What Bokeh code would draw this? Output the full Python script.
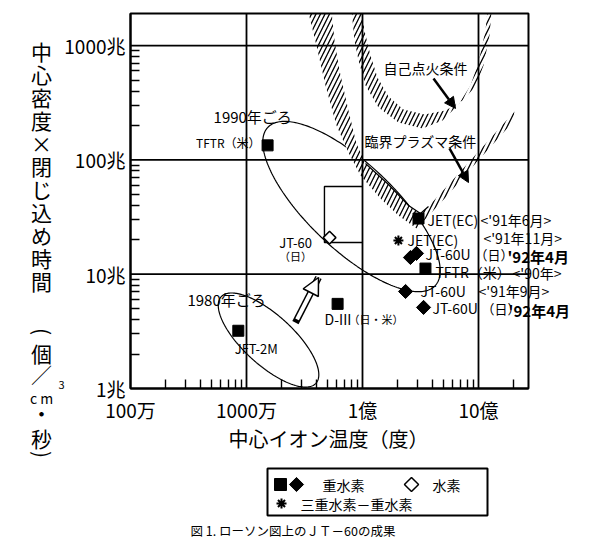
import numpy as np
from bokeh.plotting import figure
from bokeh.models import FixedTicker, CustomJSTickFormatter, Label, Arrow, NormalHead, Range1d
from bokeh.layouts import column
from bokeh.embed import file_html
from bokeh.resources import INLINE

FONT = "Noto Sans CJK JP"

# ---------------- data ----------------
x_ticks = [1e6, 1e7, 1e8, 1e9]
x_tick_labels = ["100万", "1000万", "1億", "10億"]
y_ticks = [1e12, 1e13, 1e14, 1e15]
y_tick_labels = ["1兆", "10兆", "100兆", "1000兆"]
# chart box (temperature 1e6 .. ~2.7e9 degrees, n*tau 1e12 .. ~1.9e15)
chart_T = (1e6, 10 ** 9.431)
chart_nt = (1e12, 10 ** 15.281)

# deuterium, squares: TFTR, JFT-2M, D-III, JET(EC) '91/6, TFTR '90
sq_T = [1.52e7, 8.5e6, 6.1e7, 3.04e8, 3.49e8]
sq_nt = [1.34e14, 3.2e12, 5.5e12, 3.07e13, 1.12e13]
# deuterium, diamonds: JT-60U '92/4 (two), JT-60U '91/9, JT-60U '92/4
dm_T = [2.59e8, 2.92e8, 2.35e8, 3.36e8]
dm_nt = [1.40e13, 1.52e13, 7.06e12, 5.12e12]
# hydrogen: JT-60
h_T = [5.2e7]
h_nt = [2.09e13]
# D-T: JET(EC) '91/11
dt_T = [2.04e8]
dt_nt = [1.97e13]

# critical plasma condition band (log10 T, log10 n*tau)
crit_logT = [7.536, 7.603, 7.681, 7.776, 7.879, 7.983, 8.155, 8.310, 8.466, 8.716, 8.974, 9.293,
             9.310, 9.017, 8.759, 8.569, 8.500, 8.397, 8.224, 8.026, 7.948, 7.879, 7.802, 7.759, 7.735]
crit_lognt = [15.281, 15.001, 14.651, 14.301, 14.065, 13.864, 13.662, 13.514, 13.400, 13.671, 13.969, 14.327,
              14.423, 14.091, 13.802, 13.592, 13.531, 13.601, 13.785, 13.969, 14.143, 14.432, 14.782, 15.045, 15.281]
# self-ignition condition band
ign_logT = [7.908, 7.931, 7.966, 8.026, 8.138, 8.310, 8.517, 8.690, 8.828, 8.931, 9.000, 9.060, 9.075,
            9.111, 9.095, 9.043, 8.974, 8.862, 8.716, 8.534, 8.353, 8.224, 8.129, 8.069, 8.017, 7.997]
ign_lognt = [15.281, 15.045, 14.870, 14.651, 14.458, 14.327, 14.275, 14.345, 14.485, 14.651, 14.852, 15.132, 15.281,
             15.281, 15.088, 14.826, 14.642, 14.520, 14.432, 14.397, 14.441, 14.555, 14.721, 14.913, 15.132, 15.281]
# JT-60 box
box_logT = [8.0, 7.672, 7.672, 8.0]
box_lognt = [13.767, 13.767, 13.277, 13.277]
# era ellipses: centre log T, centre log n*tau, semi-axes (decades), angle (deg)
e1990 = (7.905, 13.592, 1.0, 0.374, -44.0)
e1980 = (7.190, 12.424, 0.557, 0.217, -43.0)
# arrows (log T, log n*tau) start -> end
ign_arrow = ((8.612, 14.712), (8.802, 14.450))
crit_arrow = ((8.750, 14.100), (8.914, 13.802))
prog_arrow = ((7.422, 12.577), (7.621, 12.971))


def P(v):
    return 10 ** np.asarray(v, dtype=float)


def ellipse(c):
    cx, cy, a, b, ang = c
    t = np.linspace(0, 2 * np.pi, 240)
    th = np.deg2rad(ang)
    lx = cx + a * np.cos(t) * np.cos(th) - b * np.sin(t) * np.sin(th)
    ly = cy + a * np.cos(t) * np.sin(th) + b * np.sin(t) * np.cos(th)
    return 10 ** lx, 10 ** ly


# the frame spans the whole canvas; axes are pinned to the chart box
p = figure(width=592, height=463, x_axis_type="log", y_axis_type="log",
           x_range=Range1d(10 ** 4.8793, 10 ** 9.9828), y_range=Range1d(10 ** 11.3438, 10 ** 15.3946),
           output_backend="svg", toolbar_location=None,
           min_border_left=0, min_border_right=0, min_border_top=0, min_border_bottom=0)
p.background_fill_color = "white"
p.border_fill_color = "white"
p.outline_line_color = None
p.grid.visible = False

x_minor = [m * 10.0 ** e for e in range(6, 10) for m in range(2, 10) if m * 10.0 ** e < chart_T[1]]
y_minor = [m * 10.0 ** e for e in range(12, 16) for m in range(2, 10) if m * 10.0 ** e < chart_nt[1]]
p.xaxis.ticker = FixedTicker(ticks=x_ticks, minor_ticks=x_minor)
p.yaxis.ticker = FixedTicker(ticks=y_ticks, minor_ticks=y_minor)
fmt_code = """
for (let i = 0; i < vals.length; i++) {
  if (Math.abs(Math.log10(vals[i]) - Math.log10(tick)) < 1e-6) return labs[i];
}
return '';
"""
p.xaxis.formatter = CustomJSTickFormatter(args=dict(vals=x_ticks, labs=x_tick_labels), code=fmt_code)
p.yaxis.formatter = CustomJSTickFormatter(args=dict(vals=y_ticks, labs=y_tick_labels), code=fmt_code)
p.xaxis.fixed_location = chart_nt[0]
p.yaxis.fixed_location = chart_T[0]
p.xaxis.bounds = chart_T
p.yaxis.bounds = chart_nt

for ax in (p.xaxis[0], p.yaxis[0]):
    ax.axis_line_width = 2
    ax.axis_line_color = "black"
    ax.major_tick_in = 0
    ax.major_tick_out = 0
    ax.minor_tick_in = 9
    ax.minor_tick_out = 0
    ax.minor_tick_line_width = 1.4
    ax.minor_tick_line_color = "black"
    ax.major_label_text_font = FONT
    ax.major_label_text_font_size = "19px"
    ax.major_label_text_color = "black"
p.xaxis.major_label_standoff = 8
p.yaxis.major_label_standoff = 5

# ellipses (partly hidden by the bands)
for e in (e1990, e1980):
    ex, ey = ellipse(e)
    p.line(ex, ey, line_color="black", line_width=1.2)

# hatched condition bands
p.patch(P(crit_logT), P(crit_lognt), fill_color="white", line_color=None,
        hatch_pattern="/", hatch_color="black", hatch_weight=1.3, hatch_scale=9)
p.patch(P(ign_logT), P(ign_lognt), fill_color="white", line_color=None,
        hatch_pattern="/", hatch_color="black", hatch_weight=1.3, hatch_scale=9)
p.line(P(crit_logT[15:20]), P(crit_lognt[15:20]), line_color="black", line_width=1.2)

# grid lines and chart box
p.segment(x0=x_ticks[1:], y0=[chart_nt[0]] * 3, x1=x_ticks[1:], y1=[chart_nt[1]] * 3,
          line_color="black", line_width=1.8)
p.segment(x0=[chart_T[0]] * 3, y0=y_ticks[1:], x1=[chart_T[1]] * 3, y1=y_ticks[1:],
          line_color="black", line_width=1.8)
p.quad(left=[chart_T[0]], right=[chart_T[1]], bottom=[chart_nt[0]], top=[chart_nt[1]],
       fill_color=None, line_color="black", line_width=2)

# JT-60 box
p.line(P(box_logT), P(box_lognt), line_color="black", line_width=1.4)

# markers
p.scatter(sq_T, sq_nt, marker="square", size=11, fill_color="black", line_color="black")
p.scatter(dm_T, dm_nt, marker="square", angle=np.pi / 4, size=10, fill_color="black", line_color="black")
p.scatter(h_T, h_nt, marker="square", angle=np.pi / 4, size=9, fill_color="white", line_color="black", line_width=1.5)
p.scatter(dt_T, dt_nt, marker="asterisk", size=10, line_color="black", line_width=2)

# arrows
for (s, e) in (ign_arrow, crit_arrow):
    p.add_layout(Arrow(end=NormalHead(size=11, fill_color="black", line_color="black"),
                       x_start=10 ** s[0], y_start=10 ** s[1], x_end=10 ** e[0], y_end=10 ** e[1],
                       line_width=2.5, line_color="black"))
(s, e) = prog_arrow
s_in = (s[0] + 0.07 * (e[0] - s[0]), s[1] + 0.07 * (e[1] - s[1]))
p.add_layout(Arrow(end=None, x_start=10 ** s[0], y_start=10 ** s[1], x_end=10 ** e[0], y_end=10 ** e[1],
                   line_width=7, line_color="black"))
p.add_layout(Arrow(end=None, x_start=10 ** s_in[0], y_start=10 ** s_in[1], x_end=10 ** e[0], y_end=10 ** e[1],
                   line_width=4, line_color="white"))
p.add_layout(Arrow(end=NormalHead(size=17, fill_color="white", line_color="black", line_width=1.5),
                   x_start=10 ** s[0], y_start=10 ** s[1], x_end=10 ** e[0], y_end=10 ** e[1],
                   line_alpha=0))


def txt(plot, x, y, s, size="14px", align="left", dx=0, dy=0, bold=False, units="data", angle=0.0):
    plot.add_layout(Label(x=x, y=y, x_units=units, y_units=units, text=s, text_font=FONT,
                          text_font_size=size, text_align=align, text_baseline="middle",
                          x_offset=dx, y_offset=-dy, text_color="black", angle=angle,
                          text_font_style="bold" if bold else "normal"))


# free labels
txt(p, 10 ** 6.716, 10 ** 14.380, "1990年ごろ", size="15px")
txt(p, 10 ** 6.491, 10 ** 12.779, "1980年ごろ", size="15px")
txt(p, 10 ** 8.181, 10 ** 14.808, "自己点火条件", size="14px")
txt(p, 10 ** 8.017, 10 ** 14.161, "臨界プラズマ条件", size="14px")

# point labels
txt(p, sq_T[0], sq_nt[0], "TFTR（米）", size="12px", align="right", dx=-7, dy=-3)
txt(p, sq_T[1], sq_nt[1], "JFT-2M", size="13px", align="center", dx=18, dy=18)
txt(p, sq_T[2], sq_nt[2], "D-III", size="14px", dx=-13, dy=15)
txt(p, sq_T[2], sq_nt[2], "（日・米）", size="11px", dx=11, dy=15)
txt(p, h_T[0], h_nt[0], "JT-60", size="13px", align="center", dx=-34, dy=5)
txt(p, h_T[0], h_nt[0], "（日）", size="11px", align="center", dx=-34, dy=18)
txt(p, sq_T[3], sq_nt[3], "JET(EC)", dx=9, dy=1)
txt(p, sq_T[3], sq_nt[3], "<'91年6月>", dx=62, dy=1)
txt(p, dt_T[0], dt_nt[0], "JET(EC)", dx=9, dy=-1)
txt(p, dt_T[0], dt_nt[0], "<'91年11月>", dx=85, dy=-3)
txt(p, dm_T[1], dm_nt[1], "JT-60U", dx=9, dy=1)
txt(p, dm_T[1], dm_nt[1], "（日）", size="13px", dx=58, dy=1)
txt(p, dm_T[1], dm_nt[1], "'92年4月", size="15px", dx=91, dy=3, bold=True)
txt(p, sq_T[4], sq_nt[4], "TFTR（米）", dx=10, dy=3)
txt(p, sq_T[4], sq_nt[4], "<'90年>", dx=87, dy=4)
txt(p, dm_T[2], dm_nt[2], "JT-60U", dx=15, dy=0)
txt(p, dm_T[2], dm_nt[2], "<'91年9月>", dx=73, dy=0)
txt(p, dm_T[3], dm_nt[3], "JT-60U", dx=9, dy=1)
txt(p, dm_T[3], dm_nt[3], "（日）", size="13px", dx=58, dy=1)
txt(p, dm_T[3], dm_nt[3], "'92年4月", size="15px", dx=85, dy=3, bold=True)

# axis titles; screen units measured from the frame's bottom-left corner (page 0, 463)
txt(p, 328, 463 - 438, "中心イオン温度（度）", size="20px", align="center", units="screen")
for i, ch in enumerate("中心密度×閉じ込め時間"):
    txt(p, 41, 463 - (50 + 23 * i), ch, size="21px", align="center", units="screen")
for ch, yc in (("個", 352), ("／", 373), ("・", 412), ("秒", 437)):
    txt(p, 41, 463 - yc, ch, size="21px", align="center", units="screen")
txt(p, 42, 463 - 331, "(", size="21px", align="center", units="screen", angle=-np.pi / 2)
txt(p, 42, 463 - 454, ")", size="21px", align="center", units="screen", angle=-np.pi / 2)
txt(p, 41, 463 - 397, "c m", size="14px", align="center", units="screen")
txt(p, 61, 463 - 384, "3", size="11px", align="center", units="screen")

# ---------------- legend box and caption (page-pixel coordinates) ----------------
lf = figure(width=592, height=84, x_range=Range1d(0, 592), y_range=Range1d(547, 463),
            output_backend="svg", toolbar_location=None,
            min_border_left=0, min_border_right=0, min_border_top=0, min_border_bottom=0,
            x_axis_location=None, y_axis_location=None)
lf.grid.visible = False
lf.outline_line_color = None
lf.background_fill_color = "white"
lf.border_fill_color = "white"
lf.quad(left=[267], right=[487], top=[468], bottom=[515], fill_color=None, line_color="black", line_width=2)
lf.scatter([280], [484], marker="square", size=12, fill_color="black", line_color="black")
lf.scatter([296], [484], marker="square", angle=np.pi / 4, size=10, fill_color="black", line_color="black")
lf.scatter([411], [484], marker="square", angle=np.pi / 4, size=10, fill_color="white", line_color="black", line_width=1.5)
lf.scatter([281], [503], marker="asterisk", size=10, line_color="black", line_width=2)
txt(lf, 322, 484, "重水素", size="14px")
txt(lf, 432, 484, "水素", size="14px")
txt(lf, 300, 503, "三重水素－重水素", size="14px")
txt(lf, 190, 530, "図 1.  ローソン図上のＪＴ－60の成果", size="12.5px")

layout = column(p, lf)
open("out.html", "w").write(file_html(layout, INLINE))
